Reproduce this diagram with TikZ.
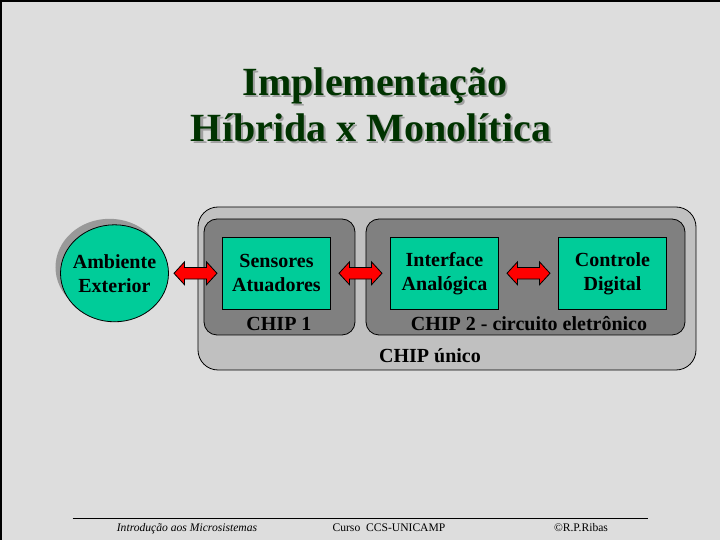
\documentclass[tikz,border=0pt]{standalone}
\usepackage{fontspec}
\setmainfont{Liberation Serif}
\usetikzlibrary{positioning, calc, shapes.geometric, shapes.arrows, shadows}
\definecolor{slidebg}{RGB}{221,221,221}
\definecolor{titlegreen}{RGB}{0,51,0}
\definecolor{titleshade}{RGB}{160,160,160}
\definecolor{blockteal}{RGB}{0,204,153}
\definecolor{chipgray}{RGB}{128,128,128}
\definecolor{unicogray}{RGB}{192,192,192}

\begin{document}
\begin{tikzpicture}[
    x=0.5pt, y=-0.5pt,
    boxfont/.style={font=\fontsize{10}{12}\selectfont\bfseries},
    block/.style={rectangle, draw, fill=blockteal, minimum width=54pt, minimum height=36pt, align=center, boxfont},
    ambient/.style={ellipse, draw, fill=blockteal, inner sep=0pt, minimum width=54pt, minimum height=48.5pt,
        drop shadow={shadow xshift=-2.5pt, shadow yshift=3pt, fill=gray!80, opacity=1}},
    chip/.style={rectangle, draw, rounded corners=6.5pt, fill=chipgray, minimum height=58pt},
    dblarrow/.style={double arrow, draw, fill=red, inner sep=2.7pt, minimum height=21.5pt,
        double arrow head extend=2.8pt, double arrow tip angle=95},
    chiptext/.style={anchor=base, boxfont},
    titletext/.style={anchor=base, font=\fontsize{20}{24}\selectfont\bfseries},
    foottext/.style={anchor=base, font=\fontsize{5.8}{7}\selectfont}
]
    % Slide
    \useasboundingbox (0,0) rectangle (720,540);
    \fill[slidebg] (0,0) rectangle (720,540);
    \draw[line width=2pt] (0,540) -- (0,0) -- (720,0);

    % Title
    \node[titletext, titleshade] (titleAshade) at (377,98) {Implementação};
    \node[titletext, titlegreen] (titleA) at (375,96) {Implementação};
    \node[titletext, titleshade] (titleBshade) at (373,144) {Híbrida x Monolítica};
    \node[titletext, titlegreen] (titleB) at (371,142) {Híbrida x Monolítica};

    % Chips
    \node[chip, fill=unicogray, rounded corners=10pt, minimum width=249pt, minimum height=81.5pt] (unico) at (447,288.5) {};
    \node[chip, minimum width=75.5pt] (chipone) at (279.5,277) {};
    \node[chip, minimum width=159.5pt] (chiptwo) at (525.5,277) {};

    % Blocks
    \node[ambient] (amb) at (114.5,273.3) {};
    \node[align=center, boxfont] (ambtext) at (amb.center) {Ambiente\\Exterior};
    \node[block] (sens) at (276.5,273.3) {Sensores\\Atuadores};
    \node[block] (iface) at (444.5,273.3) {Interface\\Analógica};
    \node[block] (ctrl) at (612.5,273.3) {Controle\\Digital};

    % Labels
    \node[chiptext] (chiponelabel) at (279,331) {CHIP 1};
    \node[chiptext] (chiptwolabel) at (529,331) {CHIP 2 - circuito eletrônico};
    \node[chiptext] (unicolabel) at (430,363) {CHIP único};

    % Arrows
    \node[dblarrow] (arrA) at ($(amb.east)!0.5!(sens.west)$) {};
    \node[dblarrow] (arrB) at ($(sens.east)!0.5!(iface.west)$) {};
    \node[dblarrow] (arrC) at ($(iface.east)!0.5!(ctrl.west)$) {};

    % Footer
    \draw[thin] (72.7,518) -- (648,518);
    \node[foottext, font=\fontsize{5.8}{7}\selectfont\itshape] (footA) at (187,532) {Introdução aos Microsistemas};
    \node[foottext] (footB) at (389,532) {Curso\ \ CCS-UNICAMP};
    \node[foottext] (footC) at (581,532) {©R.P.Ribas};
\end{tikzpicture}
\end{document}
